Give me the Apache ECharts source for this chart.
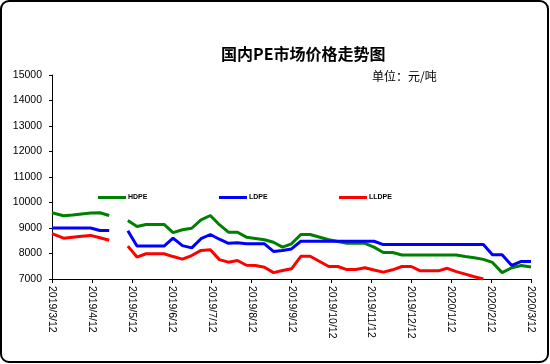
<!DOCTYPE html>
<html>
<head>
<meta charset="utf-8">
<script src="https://cdn.jsdelivr.net/npm/echarts@6/dist/echarts.min.js"></script>
<style>
html,body{margin:0;padding:0;background:#fff;}
#c{width:550px;height:364px;}
</style>
</head>
<body>
<div id="c"></div>
<script>
const dates = ['2019-03-12','2019-03-21','2019-03-28','2019-04-04','2019-04-11','2019-04-18','2019-04-25','2019-05-02',
'2019-05-09','2019-05-16','2019-05-23','2019-05-30','2019-06-06','2019-06-13','2019-06-20','2019-06-27','2019-07-04','2019-07-11',
'2019-07-18','2019-07-25','2019-08-01','2019-08-08','2019-08-15','2019-08-22','2019-08-29','2019-09-05','2019-09-12','2019-09-19','2019-09-26',
'2019-10-10','2019-10-17','2019-10-24','2019-10-31','2019-11-07','2019-11-14','2019-11-21','2019-11-28',
'2019-12-05','2019-12-12','2019-12-19','2019-12-26','2020-01-02','2020-01-09','2020-01-16',
'2020-01-23','2020-01-30','2020-02-06','2020-02-13','2020-02-20','2020-02-27','2020-03-05','2020-03-12'];
const hdpe = [9600,9480,9510,9550,9590,9600,9490,null,
9290,9060,9140,9140,9140,8820,8930,8990,9320,9490,
9130,8835,8835,8640,8590,8540,8440,8250,8380,8745,8745,
8540,8470,8400,8400,8400,8250,8040,8040,
7940,7940,7940,7940,7940,7940,7940,
7880,7830,7770,7650,7250,7440,7530,7470];
const ldpe = [9000,9000,9000,9000,9000,8900,8900,null,
8890,8290,8290,8290,8290,8600,8310,8220,8580,8745,
8560,8400,8420,8380,8380,8380,8080,8120,8180,8480,8480,
8480,8480,8480,8480,8480,8480,8350,8350,
8350,8350,8350,8350,8350,8350,8350,
8350,8350,8350,7950,7950,7530,7690,7690];
const lldpe = [8780,8600,8640,8680,8710,8620,8520,null,
8290,7860,7990,7990,7990,7880,7780,7920,8120,8145,
7760,7660,7725,7540,7530,7460,7250,7330,7400,7890,7890,
7490,7490,7370,7370,7440,7350,7270,7360,
7490,7490,7320,7320,7320,7420,7290,
7190,7090,7000,null,null,null,null,null];
const tickLabels = ['2019/3/12','2019/4/12','2019/5/12','2019/6/12','2019/7/12','2019/8/12','2019/9/12',
'2019/10/12','2019/11/12','2019/12/12','2020/1/12','2020/2/12','2020/3/12'];
const seriesNames = ['HDPE','LDPE','LLDPE'];
const colors = ['#008000','#0000ff','#ff0000'];

// position on the evenly spaced monthly axis (12th of each month = integer)
function pos(s){
  const [y,m,d] = s.split('-').map(Number);
  let mi = (y-2019)*12 + (m-3);
  let base = new Date(y, m-1, 12);
  if (d < 12) { base = new Date(y, m-2, 12); mi -= 1; }
  const next = new Date(base.getFullYear(), base.getMonth()+1, 12);
  const cur = new Date(y, m-1, d);
  return mi + (cur - base) / (next - base);
}
function build(arr){ return dates.map((d,i)=>[pos(d), arr[i]==null ? '-' : arr[i]]); }

const chart = echarts.init(document.getElementById('c'), null, {renderer:'canvas'});
const font = 'Liberation Sans, Arial, sans-serif';
const legendBase = (i, left) => ({
  data:[seriesNames[i]], left:left, top:194, icon:'rect', itemWidth:28, itemHeight:3,
  itemGap:0, padding:0,
  textStyle:{fontSize:7, fontWeight:'bold', color:'#000', fontFamily:font, padding:[0,0,0,-3]}
});
chart.setOption({
  animation:false,
  backgroundColor:'#fff',
  title:[
    {text:'国内PE市场价格走势图', left:216, top:41,
     textStyle:{fontSize:16, fontWeight:'bold', color:'#000', fontFamily:'Noto Sans CJK SC'}},
    {text:'单位：元/吨', left:367, top:65,
     textStyle:{fontSize:12, fontWeight:'normal', color:'#000', fontFamily:'Noto Sans CJK SC'}}
  ],
  legend:[legendBase(0,98), legendBase(1,219), legendBase(2,339)],
  grid:{left:52, top:75, width:479, height:204, containLabel:false},
  xAxis:{
    type:'value', min:0, max:12, interval:1,
    axisLine:{show:true, lineStyle:{color:'#000', width:1}},
    axisTick:{show:true, length:4, lineStyle:{color:'#000'}},
    splitLine:{show:false},
    axisLabel:{rotate:-90, margin:7, fontSize:10.5, color:'#000', fontFamily:font,
      formatter:(v)=>tickLabels[Math.round(v)]}
  },
  yAxis:{
    type:'value', min:7000, max:15000, interval:1000,
    axisLine:{show:true, lineStyle:{color:'#000', width:1}},
    axisTick:{show:true, length:3, lineStyle:{color:'#000'}},
    splitLine:{show:false},
    axisLabel:{margin:10, fontSize:10.5, color:'#000', fontFamily:font,
      formatter:(v)=>String(v)}
  },
  series:[hdpe, ldpe, lldpe].map((arr,i)=>({
    name:seriesNames[i], type:'line', data:build(arr), showSymbol:false, symbol:'none',
    connectNulls:false, clip:true,
    lineStyle:{color:colors[i], width:3}, itemStyle:{color:colors[i]}
  })),
  graphic:[{type:'rect', shape:{x:1, y:1, width:547, height:361, r:8},
    style:{fill:'none', stroke:'#000', lineWidth:2}, silent:true, z:100}]
});
</script>
</body>
</html>
